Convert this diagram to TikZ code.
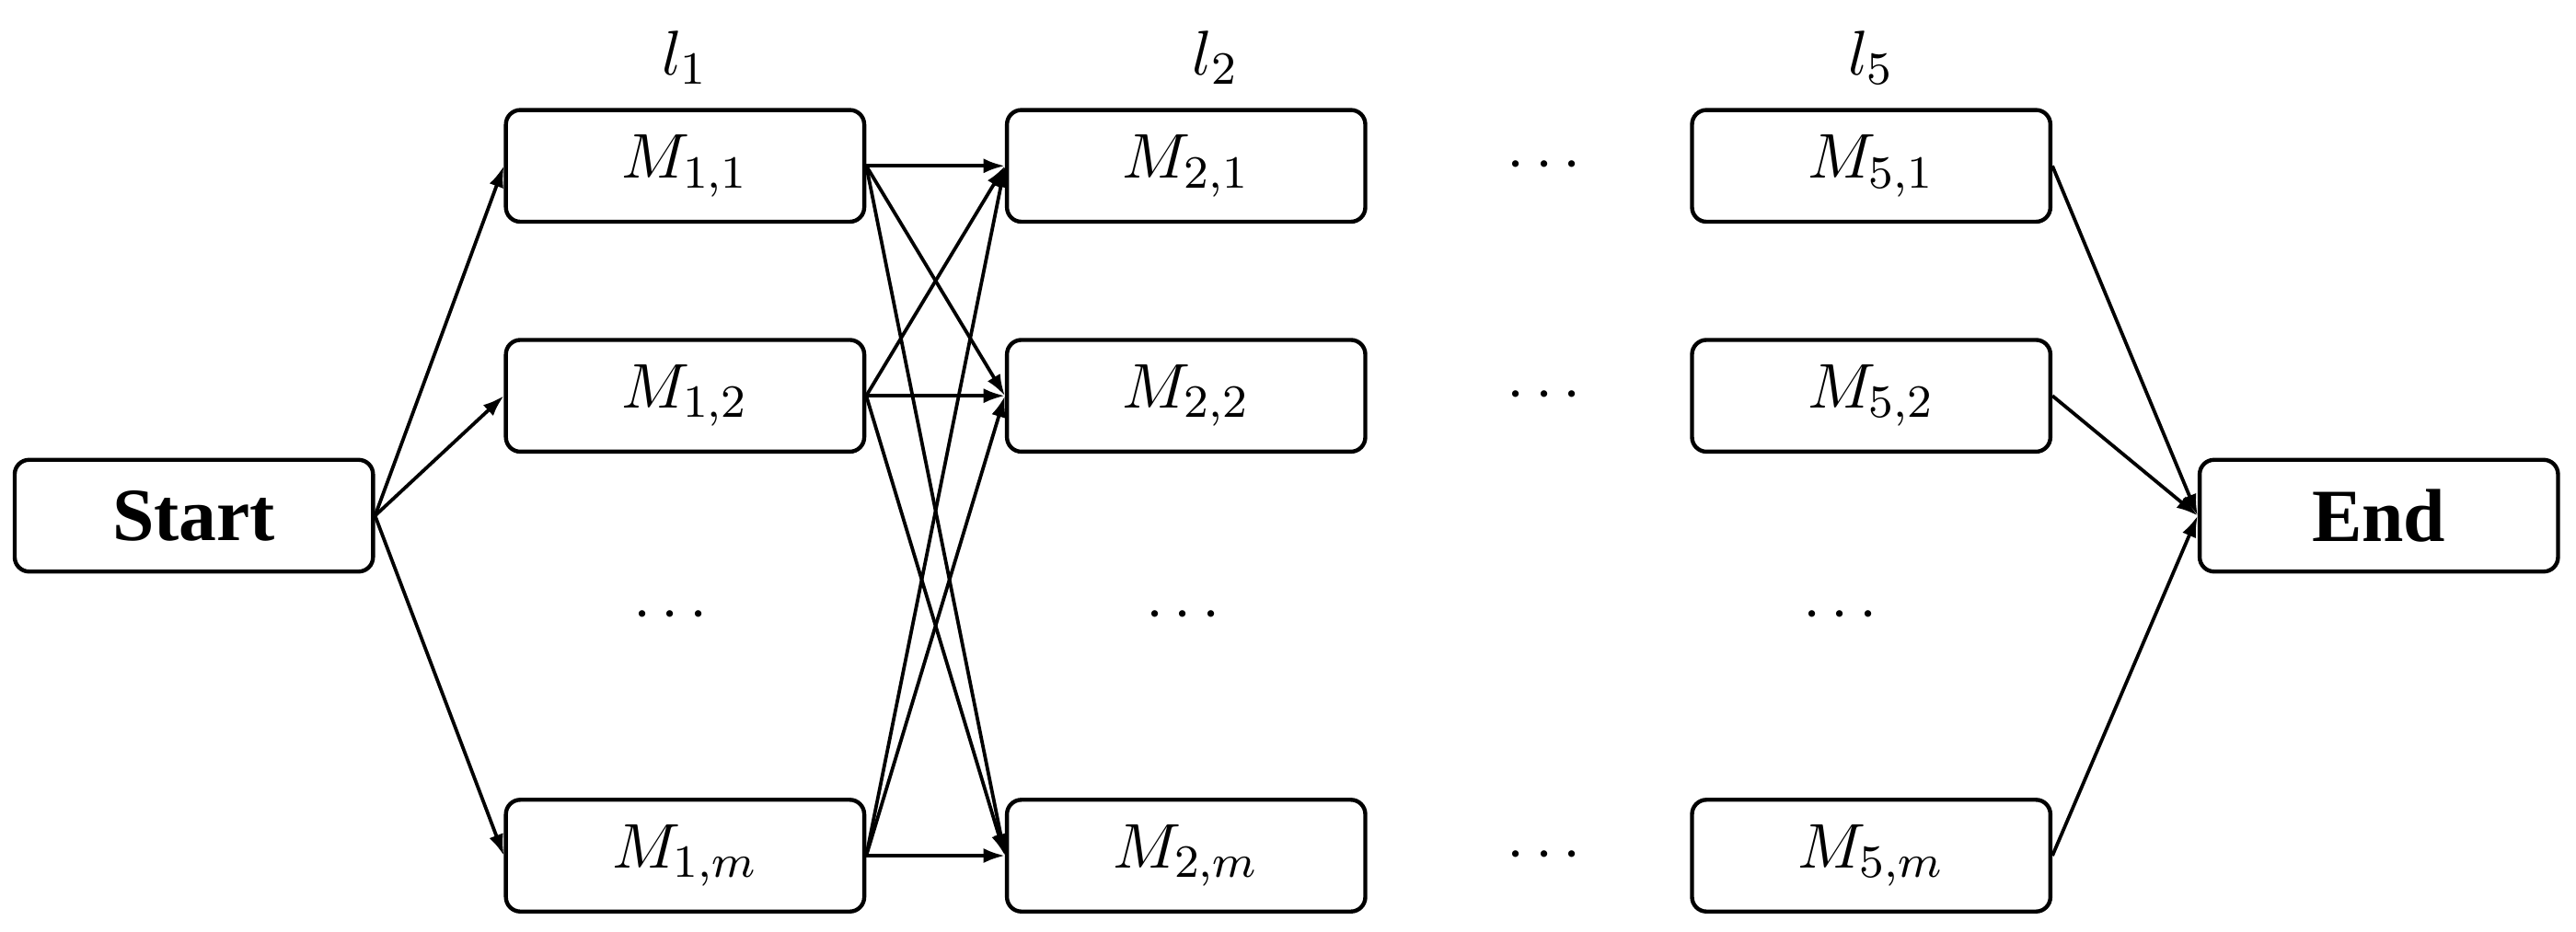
\documentclass[tikz,border=0pt]{standalone}
\usepackage{fontspec}
\setmainfont{Liberation Serif}
\usetikzlibrary{arrows.meta}
\begin{document}
\begin{tikzpicture}[x=0.01cm,y=-0.01cm,
 box/.style={draw,line width=0.7pt,rounded corners=2.5pt,minimum width=2.18cm,minimum height=0.68cm,inner sep=0pt,font=\fontsize{11}{13}\selectfont},
 arr/.style={line width=0.6pt,-{Latex[length=0.13cm,width=0.09cm]}},
 dd/.style={font=\fontsize{11}{13}\selectfont}]
\useasboundingbox (0,0) rectangle (1568,567);
\node[box,font=\bfseries\fontsize{13}{15}\selectfont] (s) at (118,314) {Start};
\node[box,font=\bfseries\fontsize{13}{15}\selectfont] (e) at (1448,314) {End};
\foreach \c/\x in {1/417,2/722,5/1139}{
 \node[box] (m\c1) at (\x,101) {$M_{\c,1}$};
 \node[box] (m\c2) at (\x,241) {$M_{\c,2}$};
 \node[box] (m\c3) at (\x,521) {$M_{\c,m}$};
}
\node[dd] (l1) at (417,35) {$l_1$};
\node[dd] (l2) at (740,35) {$l_2$};
\node[dd] (l5) at (1139,35) {$l_5$};
\node[dd] (d1) at (408,375) {$\cdots$};
\node[dd] (d2) at (720,375) {$\cdots$};
\node[dd] (d5) at (1120,375) {$\cdots$};
\node[dd] (da) at (940,101) {$\cdots$};
\node[dd] (db) at (940,241) {$\cdots$};
\node[dd] (dc) at (940,521) {$\cdots$};
\foreach \j in {1,2,3}{
 \draw[arr] (s.east) -- (m1\j.west);
 \draw[arr] (m5\j.east) -- (e.west);
 \foreach \k in {1,2,3}{ \draw[arr] (m1\j.east) -- (m2\k.west); }
}
\end{tikzpicture}
\end{document}
